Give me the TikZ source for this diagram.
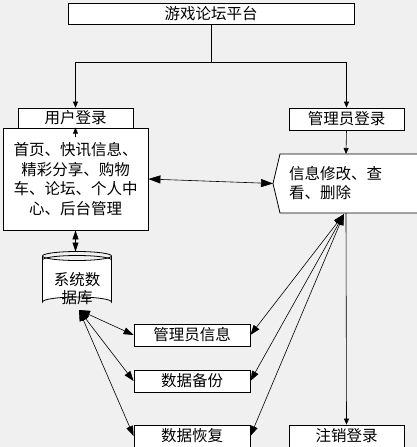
\documentclass[tikz,border=0pt]{standalone}
\usepackage{fontspec}
\newfontfamily\cjk{Noto Sans CJK SC}
\usetikzlibrary{arrows.meta}
\definecolor{bg}{RGB}{240,240,240}
\tikzset{
  box/.style={draw=black, line width=0.8pt, fill=white, inner sep=0pt, font=\cjk\fontsize{15.5}{18}\selectfont},
  sm/.style={-{Triangle[length=6pt,width=5pt]}, line width=0.6pt},
  big/.style={{Triangle[length=12pt,width=8pt]}-{Triangle[length=12pt,width=8pt]}, line width=0.6pt},
  mid/.style={{Triangle[length=11pt,width=8pt]}-{Triangle[length=10pt,width=7pt]}, line width=0.6pt},
  txt/.style={font=\cjk\fontsize{15.5}{18}\selectfont, inner sep=0pt}
}
\begin{document}
\begin{tikzpicture}[x=1pt,y=-1pt]
\useasboundingbox (0,0) rectangle (417,447);
\clip (0,0) rectangle (417,447);
\fill[bg] (0,0) rectangle (417,447);

% top
\node[box, minimum width=286pt, minimum height=21pt] (top) at (211,13.5) {游戏论坛平台};
\node[box, minimum width=115pt, minimum height=20pt] (ulogin) at (75.5,118) {用户登录};
\node[box, minimum width=115pt, minimum height=22pt] (alogin) at (346.5,119) {管理员登录};

% main box
\node[box, minimum width=145pt, minimum height=102pt, align=center, font=\cjk\fontsize{15.5}{19.5}\selectfont] (main) at (75.5,179) {首页、快讯信息、\\精彩分享、购物\\车、论坛、个人中\\心、后台管理};

% info shape (right side runs off the picture)
\fill[white] (280,154) -- (420,154) -- (420,213) -- (280,213) -- (273,183.5) -- cycle;
\draw[line width=0.8pt] (420,154) -- (280,154) -- (273,183.5) -- (280,213) -- (420,213);
\node[txt, align=left, anchor=west, font=\cjk\fontsize{15.5}{19}\selectfont] (info) at (289,183) {信息修改、查\\看、删除};
\coordinate (infoL) at (273,183.5);
\coordinate (infoT) at (346,154);
\coordinate (infoB) at (346,213);
\coordinate (infoC) at (344,214);

% database
\begin{scope}[line width=0.8pt]
\fill[white] (42.5,256) -- (42.5,302) arc[start angle=180,end angle=360,x radius=34.5,y radius=5] -- (111.5,256) arc[start angle=0,end angle=180,x radius=34.5,y radius=4.5] -- cycle;
\draw (42.5,256) -- (42.5,302) arc[start angle=180,end angle=360,x radius=34.5,y radius=5] -- (111.5,256);
\draw (77,256) ellipse[x radius=34.5,y radius=4.5];
\draw (42.5,260) arc[start angle=180,end angle=360,x radius=34.5,y radius=4.5];
\end{scope}
\node[txt, align=center, font=\cjk\fontsize{15.5}{18}\selectfont] (db) at (77,289) {系统数\\据库};
\coordinate (dbT) at (75.5,251.5);
\coordinate (dbB) at (79,310);

% lower boxes
\node[box, minimum width=116pt, minimum height=22pt] (mgr) at (192,335) {管理员信息};
\node[box, minimum width=116pt, minimum height=22pt] (bak) at (192,381) {数据备份};
\node[box, minimum width=116pt, minimum height=22pt] (rec) at (192,436) {数据恢复};
\node[box, minimum width=115pt, minimum height=22pt] (logout) at (346.5,436) {注销登录};

% tree connectors
\coordinate (j) at (211,62);
\coordinate (jl) at (75.5,62);
\coordinate (jr) at (346.5,62);
\draw[line width=0.6pt] (top.south) -- (j);
\draw[sm] (j) -- (jl) -- (ulogin.north);
\draw[sm] (j) -- (jr) -- (alogin.north);
\draw[sm] (alogin.south) -- (infoT);
\coordinate (mup) at (75.5,137);
\draw[sm] (mup) -- (main.north);

% main <-> info
\draw[big] (main.east) -- (infoL);
% main <-> db
\draw[{Triangle[length=9pt,width=6pt]}-{Triangle[length=9pt,width=6pt]}, line width=0.6pt] (main.south) -- (dbT);

% db <-> boxes
\draw[mid] (dbB) -- (mgr.west);
\draw[mid] (dbB) -- (bak.west);
\draw[mid] (dbB) -- (rec.west);

% info <-> boxes
\draw[mid] (infoC) -- (mgr.east);
\draw[mid] (infoC) -- (bak.east);
\draw[mid] (infoC) -- (rec.east);
\draw[sm] (infoB) -- (logout.north);
\end{tikzpicture}
\end{document}
